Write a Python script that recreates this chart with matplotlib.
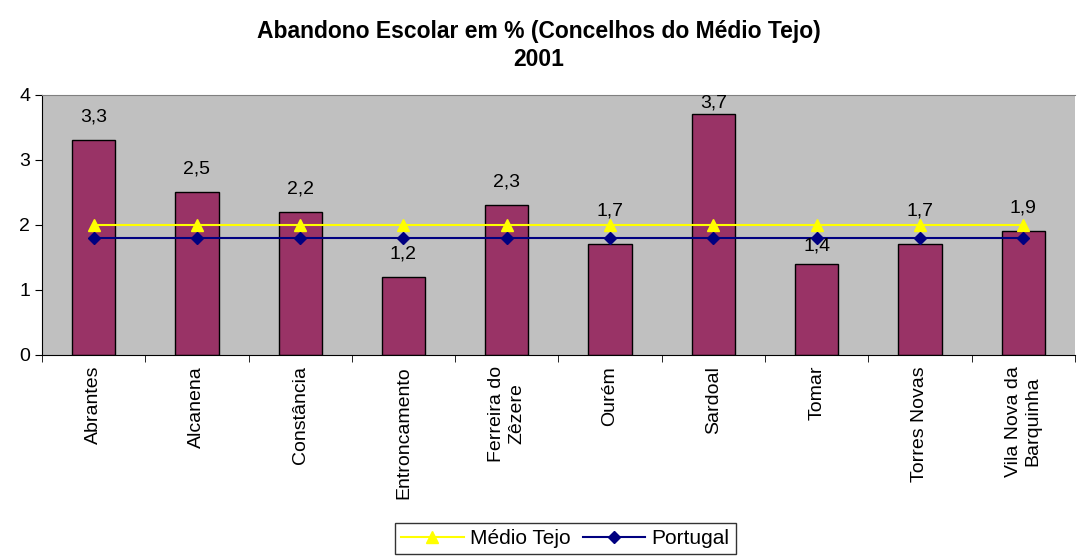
import numpy as np
import matplotlib.pyplot as plt

plt.rcParams['font.family'] = ['Liberation Sans', 'DejaVu Sans']

concelhos = ['Abrantes', 'Alcanena', 'Constância', 'Entroncamento', 'Ferreira do\nZêzere',
             'Ourém', 'Sardoal', 'Tomar', 'Torres Novas', 'Vila Nova da\nBarquinha']
abandono = [3.3, 2.5, 2.2, 1.2, 2.3, 1.7, 3.7, 1.4, 1.7, 1.9]
medio_tejo = [2.0] * 10
portugal = [1.8] * 10

# label offsets above the bar (points); a few were nudged in the original chart
label_off = {'Ourém': 24, 'Sardoal': 8.5, 'Tomar': 13, 'Torres Novas': 24}

fig = plt.figure(figsize=(10.77, 5.58), dpi=100)
ax = fig.add_axes([0.039, 0.364, 0.959, 0.466])
ax.set_facecolor('#C0C0C0')

x = np.arange(len(concelhos))
ax.bar(x, abandono, width=0.42, color='#993366', edgecolor='black', linewidth=1, zorder=2)
ax.plot(x, medio_tejo, color='#FFFF00', marker='^', markersize=9, linewidth=1.5,
        label='Médio Tejo', zorder=3)
ax.plot(x, portugal, color='#000080', marker='D', markersize=6, linewidth=1.5,
        label='Portugal', zorder=4)

for xi, v, name in zip(x, abandono, concelhos):
    off = label_off.get(name, 16.5)
    ax.annotate(f'{v:.1f}'.replace('.', ','), (xi, v), xytext=(0, off),
                textcoords='offset points', ha='center', va='center', fontsize=14, zorder=5)

ax.set_xlim(-0.5, len(concelhos) - 0.5)
ax.set_ylim(0, 4)
ax.set_yticks([0, 1, 2, 3, 4])
ax.tick_params(axis='y', labelsize=14, direction='out', length=5)
ax.set_xticks(x)
ax.set_xticklabels(concelhos, rotation=90, fontsize=14)
ax.tick_params(axis='x', length=0, pad=8)
ax.set_xticks(np.arange(-0.5, len(concelhos)), minor=True)
ax.tick_params(axis='x', which='minor', length=5, direction='out')

ax.spines['top'].set_color('#808080')
ax.spines['right'].set_visible(False)

fig.suptitle('Abandono Escolar em % (Concelhos do Médio Tejo)\n2001',
             fontsize=16.5, fontweight='bold', y=0.965, linespacing=1.3)

fig.legend(loc='lower center', bbox_to_anchor=(0.525, -0.012), ncol=2, fontsize=15,
           frameon=True, fancybox=False, edgecolor='black', handlelength=3,
           columnspacing=0.6, handletextpad=0.3, borderpad=0.3)

fig.savefig('out.png', dpi=100)
